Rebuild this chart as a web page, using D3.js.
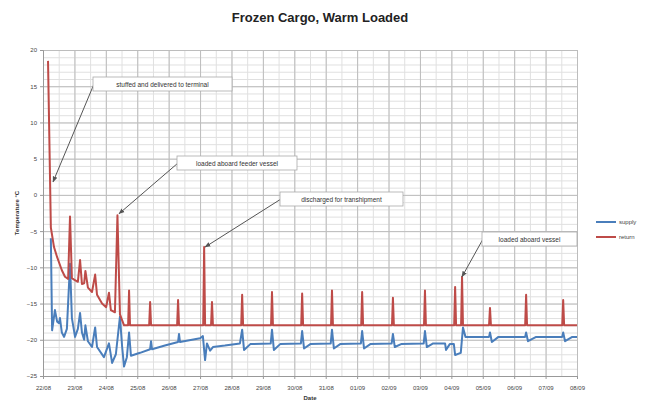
<!DOCTYPE html>
<html>
<head>
<meta charset="utf-8">
<script src="https://cdn.jsdelivr.net/npm/d3@7"></script>
<style>
  body { margin: 0; background: #fff; }
  svg { display: block; font-family: "Liberation Sans", Arial, sans-serif; }
</style>
</head>
<body>
<svg id="chart" width="647" height="402"></svg>
<script>
var WIDTH = 647;
var HEIGHT = 402;
var MARGINS = { top: 50, right: 70, bottom: 26, left: 43 };
var CHART_WIDTH = WIDTH - MARGINS.left - MARGINS.right;
var CHART_HEIGHT = HEIGHT - MARGINS.top - MARGINS.bottom;

var dayLabels = ['22/08', '23/08', '24/08', '25/08', '26/08', '27/08', '28/08', '29/08', '30/08',
  '31/08', '01/09', '02/09', '03/09', '04/09', '05/09', '06/09', '07/09', '08/09'];
var tempTicks = [20, 15, 10, 5, 0, -5, -10, -15, -20, -25];

// days since 22/08 and temperature in °C
var returnDays = [0.16, 0.25, 0.35, 0.45, 0.60, 0.70, 0.80, 0.86, 0.92, 0.99, 1.11, 1.18, 1.24, 1.31, 1.35,
  1.43, 1.56, 1.66, 1.72, 1.88, 2.01, 2.10, 2.16, 2.29, 2.37, 2.45, 2.58, 2.71, 2.74, 2.77,
  3.38, 3.41, 3.44, 4.27, 4.30, 4.33, 5.10, 5.13, 5.16, 5.35, 5.38, 5.41, 6.31, 6.34, 6.37,
  7.26, 7.29, 7.32, 8.22, 8.25, 8.28, 9.17, 9.20, 9.23, 10.13, 10.16, 10.19, 11.11, 11.14, 11.17,
  12.13, 12.16, 12.19, 13.09, 13.12, 13.15, 13.31, 13.34, 13.37, 14.20, 14.23, 14.26,
  15.35, 15.38, 15.41, 16.53, 16.56, 16.59, 17.0];
var returnTemps = [18.5, -4.5, -7.2, -8.6, -10.4, -11.3, -11.6, -3.0, -11.5, -11.7, -12.0, -9.0, -12.3, -12.2, -10.5,
  -12.8, -13.4, -11.0, -13.8, -15.0, -15.5, -13.5, -15.9, -16.2, -2.8, -16.5, -18, -18, -13.2, -18,
  -18, -14.8, -18, -18, -14.5, -18, -18, -7.2, -18, -18, -14.8, -18, -18, -13.8, -18,
  -18, -13.4, -18, -18, -13.6, -18, -18, -13.2, -18, -18, -13.4, -18, -18, -14.2, -18,
  -18, -13.2, -18, -18, -12.7, -18, -18, -11.3, -18, -18, -15.6, -18,
  -18, -13.8, -18, -18, -14.5, -18, -18];

var supplyDays = [0.25, 0.29, 0.38, 0.45, 0.51, 0.54, 0.60, 0.67, 0.76, 0.86, 0.92, 1.02, 1.11, 1.18, 1.24,
  1.31, 1.35, 1.43, 1.56, 1.66, 1.72, 1.94, 2.10, 2.20, 2.32, 2.45, 2.52, 2.58, 2.67, 2.74, 2.80,
  3.09, 3.41, 3.44, 3.47, 3.88, 4.30, 4.33, 4.36, 5.00, 5.09, 5.16, 5.22, 5.32, 5.41, 5.79, 6.27,
  6.34, 6.40, 6.60, 7.25, 7.29, 7.35, 7.55, 8.21, 8.25, 8.31, 8.51, 9.16, 9.20, 9.26, 9.46,
  10.12, 10.16, 10.22, 10.42, 11.10, 11.14, 11.20, 11.40, 12.12, 12.16, 12.22, 12.42,
  12.80, 12.83, 12.95, 13.08, 13.12, 13.30, 13.37, 13.45,
  14.20, 14.23, 14.29, 14.50, 15.35, 15.38, 15.44, 15.70, 16.53, 16.56, 16.62, 16.85, 17.0];
var supplyTemps = [-6.0, -18.7, -15.9, -17.5, -17.7, -17.0, -19.0, -19.6, -18.5, -9.5, -17.0, -19.6, -18.5, -16.3, -19.0,
  -20.0, -18.0, -20.2, -21.0, -18.3, -21.0, -22.4, -20.5, -23.2, -22.0, -16.8, -21.0, -23.7, -22.4, -19.0, -22.2,
  -21.8, -21.3, -20.2, -21.3, -20.8, -20.3, -19.2, -20.3, -19.8, -19.5, -22.8, -20.5, -21.5, -21.0, -20.8, -20.5,
  -18.6, -21.4, -20.6, -20.5, -18.6, -21.4, -20.6, -20.5, -18.8, -21.2, -20.6, -20.5, -18.6, -21.2, -20.6,
  -20.5, -18.8, -21.2, -20.6, -20.5, -19.2, -21.0, -20.6, -20.5, -18.8, -21.0, -20.5,
  -20.5, -21.4, -20.6, -20.6, -22.1, -21.8, -18.3, -19.6,
  -19.6, -19.0, -20.3, -19.6, -19.6, -19.0, -20.2, -19.6, -19.6, -19.0, -20.2, -19.6, -19.6];

var seriesNames = ['supply', 'return'];
var seriesColors = ['#4a7ebb', '#be4b48'];

var noteLabels = ['stuffed and delivered to terminal', 'loaded aboard feeder vessel',
  'discharged for transhipment', 'loaded aboard vessel'];
var noteDays = [0.32, 2.42, 5.16, 13.34];
var noteTemps = [1.8, -2.6, -7.2, -11.3];
var noteBoxes = [[93, 77, 139], [177, 156, 120], [280, 192, 123], [482, 232, 95]];

var svg = d3.select('#chart');

svg.append('text')
  .attr('x', 320)
  .attr('y', 22)
  .attr('text-anchor', 'middle')
  .attr('font-size', 13)
  .attr('font-weight', 'bold')
  .attr('fill', '#222')
  .text('Frozen Cargo, Warm Loaded');

var chartGroup = svg.append('g')
  .attr('transform', 'translate(' + MARGINS.left + ', ' + MARGINS.top + ')');

var xScale = d3.scaleLinear().domain([0, 17]).range([0, CHART_WIDTH]);
var yScale = d3.scaleLinear().domain([-25, 20]).range([CHART_HEIGHT, 0]);

// minor grid: half days and single degrees
chartGroup.append('g')
  .attr('class', 'grid-minor')
  .call(d3.axisBottom(xScale).tickValues(d3.range(0, 17.01, 0.5)).tickSize(CHART_HEIGHT).tickFormat(''))
  .call(g => g.select('.domain').remove())
  .selectAll('line').attr('stroke', '#e0e0e0');

chartGroup.append('g')
  .attr('class', 'grid-minor')
  .call(d3.axisLeft(yScale).tickValues(d3.range(-25, 20.01, 1)).tickSize(-CHART_WIDTH).tickFormat(''))
  .call(g => g.select('.domain').remove())
  .selectAll('line').attr('stroke', '#e0e0e0');

chartGroup.append('g')
  .attr('class', 'grid-major')
  .call(d3.axisBottom(xScale).ticks(17).tickSize(CHART_HEIGHT).tickFormat(''))
  .call(g => g.select('.domain').remove())
  .selectAll('line').attr('stroke', '#bdbdbd');

chartGroup.append('g')
  .attr('class', 'grid-major')
  .call(d3.axisLeft(yScale).tickValues(tempTicks).tickSize(-CHART_WIDTH).tickFormat(''))
  .call(g => g.select('.domain').remove())
  .selectAll('line').attr('stroke', '#bdbdbd');

var xAxis = d3.axisBottom(xScale)
  .tickValues(d3.range(0, 18))
  .tickFormat(d => dayLabels[d])
  .tickSize(3);

var xAxisGroup = chartGroup.append('g')
  .attr('class', 'axis axis-x')
  .attr('transform', 'translate(0, ' + CHART_HEIGHT + ')')
  .call(xAxis);

var yAxisGroup = chartGroup.append('g')
  .attr('class', 'axis axis-y')
  .call(d3.axisLeft(yScale).tickValues(tempTicks).tickSize(3));

[xAxisGroup, yAxisGroup].forEach(g => {
  g.select('.domain').attr('stroke', '#999');
  g.selectAll('.tick line').attr('stroke', '#999');
  g.selectAll('.tick text').attr('font-size', 6).attr('fill', '#444');
});
xAxisGroup.selectAll('.tick text').attr('dy', 8);

svg.append('text')
  .attr('transform', 'translate(19, ' + (MARGINS.top + yScale(-2.5)) + ') rotate(-90)')
  .attr('text-anchor', 'middle')
  .attr('font-size', 6)
  .attr('font-weight', 'bold')
  .attr('fill', '#333')
  .text('Temperature °C');

svg.append('text')
  .attr('x', 310)
  .attr('y', 400)
  .attr('text-anchor', 'middle')
  .attr('font-size', 6)
  .attr('font-weight', 'bold')
  .attr('fill', '#333')
  .text('Date');

var line = d3.line()
  .x(d => xScale(d[0]))
  .y(d => yScale(d[1]));

var linesGroup = chartGroup.append('g').attr('class', 'series');

linesGroup.append('path')
  .attr('d', line(d3.zip(supplyDays, supplyTemps)))
  .attr('fill', 'none')
  .attr('stroke', seriesColors[0])
  .attr('stroke-width', 2)
  .attr('stroke-linejoin', 'round');

linesGroup.append('path')
  .attr('d', line(d3.zip(returnDays, returnTemps)))
  .attr('fill', 'none')
  .attr('stroke', seriesColors[1])
  .attr('stroke-width', 2)
  .attr('stroke-linejoin', 'round');

// callouts
svg.append('defs').append('marker')
  .attr('id', 'arrow')
  .attr('viewBox', '0 0 10 10')
  .attr('refX', 9)
  .attr('refY', 5)
  .attr('markerWidth', 6)
  .attr('markerHeight', 6)
  .attr('orient', 'auto')
  .append('path')
  .attr('d', 'M0,1L10,5L0,9Z')
  .attr('fill', '#555');

var notesGroup = svg.append('g').attr('class', 'notes');

noteLabels.forEach((label, i) => {
  var box = noteBoxes[i];
  var tipX = MARGINS.left + xScale(noteDays[i]);
  var tipY = MARGINS.top + yScale(noteTemps[i]);

  notesGroup.append('line')
    .attr('x1', box[0] + 1)
    .attr('y1', box[1] + 7)
    .attr('x2', tipX)
    .attr('y2', tipY)
    .attr('stroke', '#555')
    .attr('stroke-width', 1)
    .attr('marker-end', 'url(#arrow)');

  notesGroup.append('rect')
    .attr('x', box[0])
    .attr('y', box[1])
    .attr('width', box[2])
    .attr('height', 14)
    .attr('fill', '#fff')
    .attr('stroke', '#aaa')
    .attr('stroke-width', 0.8);

  notesGroup.append('text')
    .attr('x', box[0] + box[2] / 2)
    .attr('y', box[1] + 9.5)
    .attr('text-anchor', 'middle')
    .attr('font-size', 6.5)
    .attr('fill', '#333')
    .text(label);
});

// legend
var legend = svg.append('g')
  .attr('class', 'legend')
  .attr('transform', 'translate(596, 222)');

seriesNames.forEach((name, i) => {
  legend.append('line')
    .attr('x1', 0)
    .attr('x2', 20)
    .attr('y1', i * 15)
    .attr('y2', i * 15)
    .attr('stroke', seriesColors[i])
    .attr('stroke-width', 2);

  legend.append('text')
    .attr('x', 23)
    .attr('y', i * 15 + 2)
    .attr('font-size', 6)
    .attr('fill', '#444')
    .text(name);
});
</script>
</body>
</html>
